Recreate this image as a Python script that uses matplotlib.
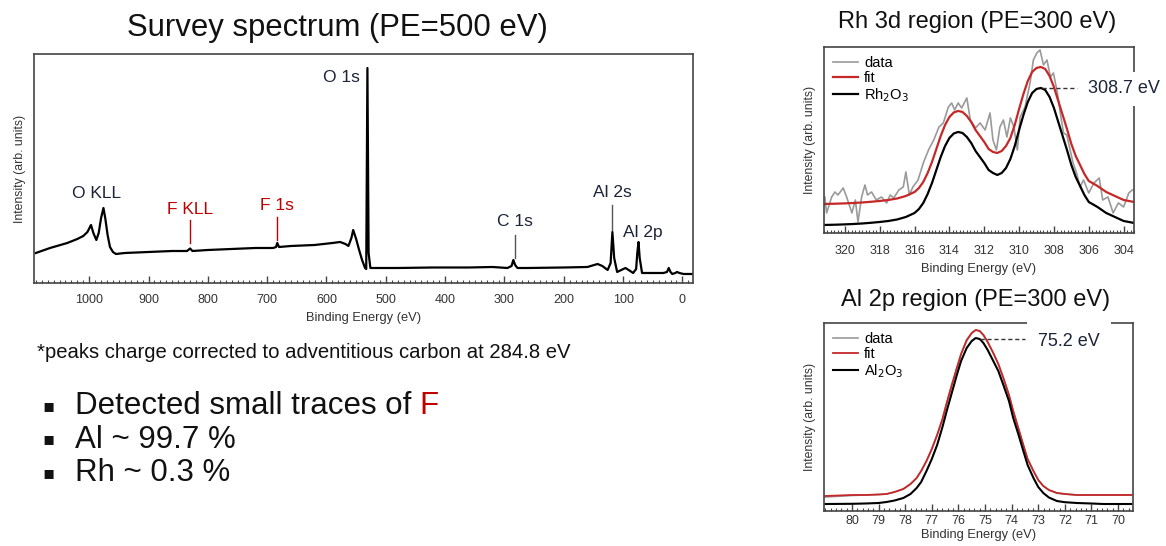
import numpy as np
import matplotlib
matplotlib.use("Agg")
from matplotlib import pyplot as plt
from matplotlib.ticker import MultipleLocator

plt.rcParams['font.family'] = ['Liberation Sans', 'DejaVu Sans']

# ---- survey spectrum (PE=500 eV), intensity in arb. units ----
survey_be = [1090, 1066, 1037, 1020, 1010, 1003, 997, 993, 988, 984, 980, 976, 973, 969, 965, 960, 955,
             940, 900, 860, 835, 830, 826, 800, 760, 720, 690, 685, 683, 680, 660, 620, 590, 577, 568,
             563, 558, 555, 550, 545, 540, 535, 533, 531, 529, 526, 520, 480, 420, 360, 320, 295, 288,
             285, 282, 278, 260, 200, 160, 143, 135, 126, 121, 118, 115, 110, 103, 96, 88, 83, 78, 76,
             74, 72, 68, 60, 45, 32, 26, 23, 20, 17, 12, 9, 5, -2, -10, -17]
survey_int = [30, 35, 40, 44, 47, 51, 58, 50, 43, 50, 65, 75, 65, 48, 36, 31, 29,
              30, 31, 32, 32, 34.5, 32, 33, 34, 35, 35, 36, 40, 36, 37, 38, 40, 41, 39,
              37, 45, 53, 44, 33, 23, 15, 14, 215, 30, 15, 15, 15, 15.5, 15.5, 16, 15, 17,
              23, 18, 15, 15, 15.5, 16, 19, 17, 13, 20, 51, 25, 11, 13, 15, 12, 10, 14, 30,
              41, 25, 10, 10, 10, 10, 11, 15, 11, 9, 10, 11, 10, 9, 9, 9]

# ---- Rh 3d region (PE=300 eV) ----
rh_fit_be = [321.2, 320.5, 320.0, 319.5, 319.0, 318.5, 318.0, 317.5, 317.0, 316.5, 316.0, 315.75,
             315.5, 315.25, 315.0, 314.75, 314.5, 314.25, 314.0, 313.75, 313.5, 313.25, 313.0,
             312.75, 312.5, 312.25, 312.0, 311.75, 311.5, 311.25, 311.0, 310.75, 310.5, 310.25,
             310.0, 309.75, 309.5, 309.25, 309.0, 308.75, 308.5, 308.25, 308.0, 307.75, 307.5,
             307.25, 307.0, 306.75, 306.5, 306.25, 306.0, 305.5, 305.0, 304.5, 304.0, 303.4]
rh_fit = [29, 29.3, 29.6, 30, 30.5, 31.2, 32, 33, 34.5, 37, 41, 45,
          51, 60, 71, 84, 97, 108, 116, 120.5, 122, 121, 117,
          111, 103, 97, 91, 84, 81, 80, 82, 87, 95, 108,
          124, 139, 152, 161, 165, 166, 164, 157, 146, 132, 118,
          104, 89, 77, 68, 59, 52, 47, 41, 37, 33, 31]
rh2o3 = [8, 8.3, 8.6, 9, 9.5, 10.2, 11, 12, 13.5, 16, 20, 24,
         30, 39, 50, 63, 76, 87, 95, 99.5, 101, 100, 96,
         90, 82, 76, 70, 63, 60, 58, 60, 65, 74, 87,
         103, 118, 131, 140, 144, 145, 143, 136, 125, 111, 97,
         83, 68, 56, 47, 38, 31, 26, 20, 16, 12, 10]

rh_data_be = [321.15, 321.05, 320.76, 320.57, 320.4, 320.1, 319.9, 319.6, 319.4, 319.25, 319.04,
              318.85, 318.7, 318.47, 318.2, 317.9, 317.6, 317.4, 317.2, 316.9, 316.65, 316.5, 316.3,
              316.1, 315.8, 315.5, 315.2, 314.9, 314.6, 314.35, 314.06, 313.87, 313.7, 313.5, 313.3,
              313.0, 312.8, 312.5, 312.24, 311.95, 311.67, 311.5, 311.3, 311.1, 310.9, 310.7, 310.5,
              310.3, 310.1, 309.94, 309.66, 309.37, 309.18, 308.98, 308.8, 308.6, 308.4, 308.2,
              308.03, 307.8, 307.6, 307.45, 307.26, 307.07, 306.9, 306.7, 306.5, 306.3, 306.0, 305.7,
              305.4, 305.2, 304.9, 304.6, 304.3, 304.0, 303.7, 303.5]
rh_data = [36, 20, 36, 41, 38, 45, 36, 20, 33, 11, 36,
           48, 38, 41, 33, 36, 30, 38, 35, 43, 46, 61, 38,
           46, 53, 70, 83, 93, 106, 110, 126, 130, 123, 130, 125,
           135, 113, 105, 110, 103, 120, 93, 83, 106, 113, 96, 115,
           106, 83, 116, 126, 150, 173, 180, 183, 168, 173, 156,
           160, 140, 116, 100, 98, 83, 70, 60, 46, 53, 40, 50,
           55, 33, 36, 20, 30, 26, 40, 43]

# ---- Al 2p region (PE=300 eV) ----
al_be = [81.0, 80.0, 79.5, 79.0, 78.7, 78.4, 78.07, 77.8, 77.57, 77.4, 77.2, 77.0, 76.8, 76.6,
         76.44, 76.25, 76.06, 75.9, 75.69, 75.5, 75.35, 75.2, 75.06, 74.9, 74.69, 74.5, 74.31,
         74.1, 73.94, 73.75, 73.56, 73.4, 73.18, 73.0, 72.81, 72.6, 72.3, 72.0, 71.55, 71.0,
         70.55, 69.5]
al_data = [14, 15.5, 16, 16.5, 17, 19, 22, 27, 33, 40, 50, 62, 76, 92,
           108, 126, 143, 157, 170, 178, 181, 180, 176, 169, 158, 147, 133,
           116, 100, 83, 66, 52, 40, 31, 25, 21, 18, 17, 16, 16,
           16, 16]
al_fit = [15, 16, 16, 16.5, 17, 19, 22, 27, 33, 40, 50, 62, 76, 92,
          108, 126, 143, 157, 171, 178, 181, 180, 176, 169, 158, 147, 133,
          116, 100, 83, 66, 52, 40, 31, 25, 21, 18, 17, 16, 16,
          16, 16]
al2o3 = [7, 7.2, 7.5, 8, 9, 10.5, 13, 17, 23, 29, 40, 52, 66, 84,
         100, 118, 136, 150, 163, 170, 173, 172, 168, 161, 150, 140, 126,
         110, 93, 77, 60, 46, 33, 24, 18, 13.5, 10, 8.8, 8, 7.5,
         7, 7]

label_col = '#1c2437'
red = '#c00000'
grey = '#9a9a9a'
spine_col = '#444444'

fig = plt.figure(figsize=(11.66, 5.46), dpi=100)


def style_axes(ax, pad=6, labelpad=3):
    for s in ax.spines.values():
        s.set_color(spine_col)
        s.set_linewidth(1.2)
    ax.set_yticks([])
    ax.tick_params(axis='x', which='both', direction='in', top=False, colors=spine_col,
                   labelcolor='#333333', labelsize=9, pad=pad)
    ax.tick_params(axis='x', which='major', length=5, width=1)
    ax.tick_params(axis='x', which='minor', length=2.5, width=0.8)
    ax.set_xlabel('Binding Energy (eV)', fontsize=9.3, color='#333333', labelpad=labelpad)
    ax.set_ylabel('Intensity (arb. units)', fontsize=8.8, color='#333333', labelpad=6)


def add_legend(ax):
    ax.legend(loc='upper left', frameon=False, fontsize=10.5, handlelength=1.65,
              handletextpad=0.45, labelspacing=0.05, borderaxespad=0.25)


# survey
ax1 = fig.add_axes([0.0292, 0.4817, 0.5652, 0.4194])
ax1.plot(survey_be, survey_int, color='black', lw=1.6)
ax1.set_xlim(1093, -18)
ax1.set_ylim(0, 229)
ax1.xaxis.set_major_locator(MultipleLocator(100))
ax1.xaxis.set_minor_locator(MultipleLocator(10))
style_axes(ax1, pad=8, labelpad=4)
fig.text(337 / 1166, 1 - 28 / 546, 'Survey spectrum (PE=500 eV)', fontsize=22.4,
         color='#111111', ha='center', va='center')

ax1.text(543, 205, 'O 1s', fontsize=12.5, color=label_col, ha='right', va='center')
ax1.text(987, 89, 'O KLL', fontsize=12.5, color=label_col, ha='center', va='center')
ax1.text(830, 73, 'F KLL', fontsize=12.5, color=red, ha='center', va='center')
ax1.plot([830, 830], [40, 63], color=red, lw=1)
ax1.text(683, 77, 'F 1s', fontsize=12.5, color=red, ha='center', va='center')
ax1.plot([683, 683], [43, 66], color=red, lw=1)
ax1.text(282, 61, 'C 1s', fontsize=12.5, color=label_col, ha='center', va='center')
ax1.plot([282, 282], [25, 48], color='#555555', lw=1)
ax1.text(118, 90, 'Al 2s', fontsize=12.5, color=label_col, ha='center', va='center')
ax1.plot([118, 118], [53, 78], color='#555555', lw=1)
ax1.text(66, 50, 'Al 2p', fontsize=12.5, color=label_col, ha='center', va='center')

# Rh 3d
ax2 = fig.add_axes([0.7067, 0.5733, 0.2659, 0.3407])
ax2.plot(rh_data_be, rh_data, color=grey, lw=1.2, label='data')
ax2.plot(rh_fit_be, rh_fit, color='#c62828', lw=1.6, label='fit')
ax2.plot(rh_fit_be, rh2o3, color='black', lw=1.6, label='Rh$_2$O$_3$')
ax2.set_xlim(321.2, 303.4)
ax2.set_ylim(0, 186)
ax2.xaxis.set_major_locator(MultipleLocator(2))
ax2.xaxis.set_minor_locator(MultipleLocator(0.2))
style_axes(ax2, pad=9, labelpad=4)
fig.text(977 / 1166, 1 - 22 / 546, 'Rh 3d region (PE=300 eV)', fontsize=17,
         color='#111111', ha='center', va='center')
add_legend(ax2)
ax2.plot([308.7, 306.67], [145, 145], color='#333333', lw=1, ls='--', dashes=(3, 2))
ax2.text(306.03, 144, '308.7 eV', fontsize=13, color=label_col, ha='left', va='center',
         clip_on=False, zorder=6,
         bbox=dict(facecolor='white', edgecolor='none', pad=6))

# Al 2p
ax3 = fig.add_axes([0.7067, 0.0641, 0.2650, 0.3443])
ax3.plot(al_be, al_data, color=grey, lw=1.2, label='data')
ax3.plot(al_be, al_fit, color='#c62828', lw=1.3, label='fit')
ax3.plot(al_be, al2o3, color='black', lw=1.5, label='Al$_2$O$_3$')
ax3.set_xlim(81.05, 69.44)
ax3.set_ylim(0, 188)
ax3.set_xticks(range(70, 81))
ax3.xaxis.set_minor_locator(MultipleLocator(0.2))
style_axes(ax3, pad=3, labelpad=1)
fig.text(976 / 1166, 1 - 300 / 546, 'Al 2p region (PE=300 eV)', fontsize=17,
         color='#111111', ha='center', va='center')
add_legend(ax3)
ax3.plot([75.2, 73.5], [172, 172], color='#333333', lw=1, ls='--', dashes=(3, 2))
ax3.text(73.0, 170, '75.2 eV', fontsize=13, color=label_col, ha='left', va='center',
         clip_on=False, zorder=6,
         bbox=dict(facecolor='white', edgecolor='none', pad=8))

# notes and bullets
bg = fig.add_axes([0, 0, 1, 1], zorder=-1)
bg.axis('off')
bg.set_xlim(0, 1)
bg.set_ylim(0, 1)
fig.text(0.032, 0.355, '*peaks charge corrected to adventitious carbon at 284.8 eV',
         fontsize=14.6, color='#111111', va='center')
bullet_y = [0.257, 0.195, 0.134]
bullet_txt = ['Detected small traces of ', 'Al ~ 99.7 %', 'Rh ~ 0.3 %']
for yy, tt in zip(bullet_y, bullet_txt):
    fig.text(0.036, yy, '\u25aa', fontsize=13, color='#111111', va='center',
             family=['DejaVu Sans'])
    t = fig.text(0.064, yy, tt, fontsize=22.5, color='#111111', va='center')
    if tt.startswith('Detected'):
        bg.annotate('F', xy=(1, 0), xycoords=t, va='bottom', ha='left', fontsize=22.5,
                    color=red)

fig.savefig('out.png', dpi=100)
